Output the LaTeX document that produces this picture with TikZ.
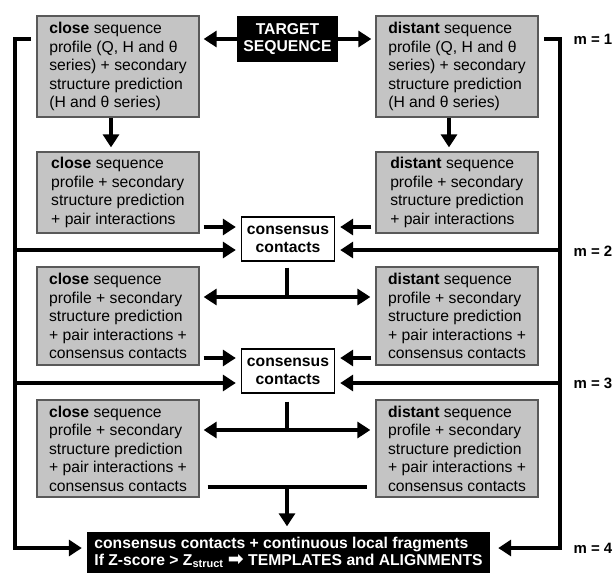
\documentclass[tikz,border=0pt]{standalone}
\usepackage{fontspec}
\setmainfont{Liberation Sans}
\newfontfamily\dejavu{DejaVu Sans}
\usetikzlibrary{arrows.meta,calc}
\begin{document}
\begin{tikzpicture}[x=1pt,y=-1pt,
  every node/.style={font=\fontsize{15.7}{18.5}\selectfont},
  graybox/.style={draw=black!65, line width=1.3pt, fill=black!23, minimum width=162pt, align=left, inner sep=0pt},
  blackbox/.style={fill=black, text=white, font=\fontsize{15.7}{17}\selectfont\bfseries, inner sep=0pt},
  conbox/.style={draw=black, line width=1.4pt, fill=white, minimum width=93pt, minimum height=44pt, align=center, inner sep=0pt, font=\fontsize{15.7}{18}\selectfont\bfseries},
  conn/.style={line width=4.5pt},
  arr/.style={conn, -{Triangle[length=13pt,width=16pt]}},
  darr/.style={conn, {Triangle[length=13pt,width=16pt]}-{Triangle[length=13pt,width=16pt]}},
  mlabel/.style={font=\fontsize{15}{18}\selectfont\bfseries, anchor=west}
]
\useasboundingbox (0,0) rectangle (615,573);

% target
\node[blackbox, minimum width=101pt, minimum height=46pt, align=center] (T) at (287.5,39) {TARGET\\SEQUENCE};

% row 1
\node[graybox, minimum height=101pt] (L1) at (118,66.5) {\textbf{close} sequence\\profile (Q, H and θ\\series) + secondary\\structure prediction\\(H and θ series)};
\node[graybox, minimum height=101pt] (R1) at (457,66.5) {\textbf{distant} sequence\\profile (Q, H and θ\\series) + secondary\\structure prediction\\(H and θ series)};

% row 2
\node[graybox, minimum height=81pt] (L2) at (118,192.5) {\textbf{close} sequence\\profile + secondary\\structure prediction\\+ pair interactions};
\node[graybox, minimum height=81pt] (R2) at (457,192.5) {\textbf{distant} sequence\\profile + secondary\\structure prediction\\+ pair interactions};
\node[conbox] (C1) at (288,239) {consensus\\contacts};

% row 3
\node[graybox, minimum height=98pt] (L3) at (118,316) {\textbf{close} sequence\\profile + secondary\\structure prediction\\+ pair interactions +\\consensus contacts};
\node[graybox, minimum height=98pt] (R3) at (457,316) {\textbf{distant} sequence\\profile + secondary\\structure prediction\\+ pair interactions +\\consensus contacts};
\node[conbox] (C2) at (288,371) {consensus\\contacts};

% row 4
\node[graybox, minimum height=97pt] (L4) at (118,448.5) {\textbf{close} sequence\\profile + secondary\\structure prediction\\+ pair interactions +\\consensus contacts};
\node[graybox, minimum height=97pt] (R4) at (457,448.5) {\textbf{distant} sequence\\profile + secondary\\structure prediction\\+ pair interactions +\\consensus contacts};

% bottom
\node[blackbox, minimum width=403pt, minimum height=41pt, align=left] (B) at (288.5,552) {consensus contacts + continuous local fragments\\If Z-score > Z\textsubscript{struct} {\dejavu\fontsize{19}{17}\selectfont ➡} TEMPLATES and ALIGNMENTS};

% m labels
\node[mlabel] (m1) at (570,39) {m = 1};
\node[mlabel] (m2) at (570,251) {m = 2};
\node[mlabel] (m3) at (570,383) {m = 3};
\node[mlabel] (m4) at (570,548) {m = 4};

% level coordinates
\coordinate (y2a) at (0,227);
\coordinate (y2b) at (0,250);
\coordinate (y3a) at (0,358);
\coordinate (y3b) at (0,383);
\coordinate (h3) at (0,297);
\coordinate (h4) at (0,430);
\coordinate (h5) at (0,487);
\coordinate (yb) at (0,548);

% target arrows
\draw[arr, shorten >=4pt] (T.west) -- (L1.east |- T.west);
\draw[arr, shorten >=4pt] (T.east) -- (R1.west |- T.east);

% down arrows
\draw[arr, shorten >=4pt] ([xshift=-7pt]L1.south) -- ([xshift=-7pt]L2.north);
\draw[arr, shorten >=4pt] ([xshift=-8pt]R1.south) -- ([xshift=-8pt]R2.north);

% row 2 to C1
\draw[arr, shorten <=4pt, shorten >=5pt] (L2.east |- y2a) -- (C1.west |- y2a);
\draw[arr, shorten <=4pt, shorten >=5pt] (R2.west |- y2a) -- (C1.east |- y2a);

% loops
\coordinate (ls) at (31,39);
\coordinate (lc) at (15,39);
\coordinate (rs) at (544,39);
\coordinate (rc) at (560,39);
\draw[arr, shorten >=5pt] (ls) -- (lc) -- (lc |- yb) -- (B.west |- yb);
\draw[arr, shorten >=8pt] (rs) -- (rc) -- (rc |- yb) -- (B.east |- yb);
\draw[arr, shorten >=5pt] (lc |- y2b) -- (C1.west |- y2b);
\draw[arr, shorten >=5pt] (rc |- y2b) -- (C1.east |- y2b);
\draw[arr, shorten >=5pt] (lc |- y3b) -- (C2.west |- y3b);
\draw[arr, shorten >=5pt] (rc |- y3b) -- (C2.east |- y3b);

% C1 down to row 3
\draw[conn] ([xshift=-1pt]C1.south) ++(0,6) -- ([xshift=-1pt]C1.south |- h3);
\draw[darr, shorten <=4pt, shorten >=5pt] (L3.east |- h3) -- (R3.west |- h3);

% row 3 to C2
\draw[arr, shorten <=4pt, shorten >=5pt] (L3.east |- y3a) -- (C2.west |- y3a);
\draw[arr, shorten <=4pt, shorten >=5pt] (R3.west |- y3a) -- (C2.east |- y3a);

% C2 down to row 4
\draw[conn] ([xshift=-1pt]C2.south) ++(0,8) -- ([xshift=-1pt]C2.south |- h4);
\draw[darr, shorten <=4pt, shorten >=5pt] (L4.east |- h4) -- (R4.west |- h4);

% row 4 to bottom
\draw[conn, shorten <=8pt, shorten >=8pt] (L4.east |- h5) -- (R4.west |- h5);
\coordinate (mid5) at (287,487);
\draw[arr, shorten >=5pt] (mid5) -- (mid5 |- B.north);
\end{tikzpicture}
\end{document}
